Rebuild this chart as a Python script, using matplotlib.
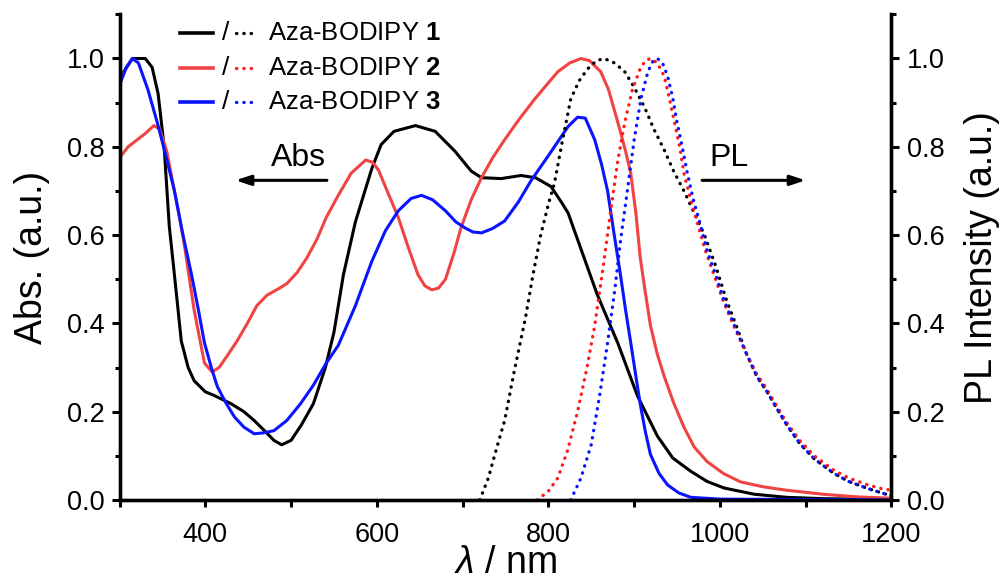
import numpy as np
import matplotlib
matplotlib.use('Agg')
import matplotlib.pyplot as plt
from matplotlib.ticker import MultipleLocator

plt.rcParams['font.family'] = ['Liberation Sans', 'DejaVu Sans']
plt.rcParams['mathtext.fontset'] = 'custom'
plt.rcParams['mathtext.it'] = 'Liberation Sans:italic'
plt.rcParams['mathtext.rm'] = 'Liberation Sans'
plt.rcParams['mathtext.bf'] = 'Liberation Sans:bold'

# absorption, compound 1
abs1_wl = [305, 315, 330, 338, 345, 352, 358, 364, 372, 380, 387, 400, 410, 430, 445, 457, 470, 480, 489,
           500, 512, 526, 540, 550, 561, 575, 594, 605, 620, 645, 668, 691, 710, 722, 745, 768, 785, 803,
           815, 823, 834, 857, 881, 904, 927, 945, 966, 985, 1005, 1040, 1078, 1120, 1200]
abs1_val = [0.97, 1.0, 1.0, 0.98, 0.92, 0.80, 0.62, 0.51, 0.36, 0.30, 0.27, 0.245, 0.237, 0.218, 0.20, 0.18,
            0.155, 0.135, 0.125, 0.135, 0.17, 0.218, 0.30, 0.38, 0.51, 0.63, 0.75, 0.805, 0.835, 0.848,
            0.835, 0.79, 0.745, 0.73, 0.728, 0.735, 0.73, 0.71, 0.675, 0.65, 0.59, 0.465, 0.355, 0.235,
            0.145, 0.095, 0.065, 0.042, 0.027, 0.013, 0.006, 0.003, 0.001]

# absorption, compound 2
abs2_wl = [300, 310, 320, 330, 340, 347, 355, 360, 368, 375, 387, 399, 408, 416, 425, 437, 449, 460, 472,
           485, 495, 507, 518, 530, 541, 555, 570, 587, 595, 602, 612, 625, 637, 648, 656, 664, 672, 680,
           690, 698, 710, 722, 735, 749, 765, 784, 800, 811, 825, 838, 848, 861, 870, 881, 890, 896, 902,
           907, 913, 919, 927, 935, 946, 958, 970, 985, 1004, 1024, 1050, 1078, 1120, 1160, 1200]
abs2_val = [0.775, 0.80, 0.815, 0.83, 0.848, 0.84, 0.79, 0.74, 0.66, 0.585, 0.43, 0.31, 0.29, 0.30, 0.325,
            0.36, 0.40, 0.44, 0.464, 0.478, 0.49, 0.515, 0.547, 0.59, 0.64, 0.69, 0.74, 0.77, 0.765, 0.747,
            0.70, 0.64, 0.57, 0.51, 0.485, 0.476, 0.48, 0.50, 0.56, 0.616, 0.68, 0.73, 0.775, 0.816, 0.86,
            0.908, 0.945, 0.97, 0.99, 1.0, 0.995, 0.97, 0.93, 0.855, 0.79, 0.74, 0.65, 0.55, 0.47, 0.395,
            0.33, 0.28, 0.22, 0.165, 0.12, 0.087, 0.06, 0.041, 0.03, 0.022, 0.013, 0.007, 0.004]

# absorption, compound 3
abs3_wl = [300, 308, 315, 322, 333, 344, 354, 364, 374, 384, 392, 399, 407, 414, 424, 434, 445, 457, 468,
           480, 495, 511, 526, 541, 555, 575, 594, 610, 625, 640, 652, 665, 680, 692, 703, 712, 722, 735,
           749, 765, 780, 800, 823, 834, 843, 854, 862, 869, 876, 884, 890, 896, 902, 907, 913, 919, 929,
           939, 952, 966, 1000, 1200]
abs3_val = [0.94, 0.98, 1.0, 0.99, 0.93, 0.855, 0.78, 0.70, 0.60, 0.51, 0.43, 0.356, 0.30, 0.257, 0.22,
            0.188, 0.165, 0.15, 0.152, 0.157, 0.18, 0.218, 0.26, 0.31, 0.35, 0.44, 0.54, 0.61, 0.655, 0.683,
            0.69, 0.68, 0.655, 0.63, 0.616, 0.607, 0.605, 0.615, 0.632, 0.675, 0.724, 0.78, 0.846, 0.867,
            0.865, 0.816, 0.76, 0.70, 0.61, 0.51, 0.43, 0.356, 0.28, 0.218, 0.155, 0.103, 0.06, 0.034,
            0.016, 0.006, 0.002, 0.0]

# photoluminescence
pl1_wl = [720, 730, 740, 749, 760, 773, 782, 791, 800, 807, 815, 826, 836, 846, 856, 865, 877, 889, 900,
          912, 923, 935, 946, 958, 970, 982, 995, 1008, 1020, 1030, 1043, 1055, 1067, 1078, 1093, 1110,
          1133, 1150, 1171, 1190, 1200]
pl1_val = [0.0, 0.05, 0.12, 0.18, 0.29, 0.41, 0.51, 0.60, 0.67, 0.717, 0.80, 0.908, 0.95, 0.977, 0.995,
           1.0, 0.99, 0.97, 0.935, 0.89, 0.84, 0.793, 0.745, 0.70, 0.65, 0.60, 0.53, 0.45, 0.39, 0.335,
           0.28, 0.245, 0.205, 0.17, 0.128, 0.093, 0.06, 0.042, 0.027, 0.015, 0.01]

pl2_wl = [787, 800, 811, 822, 834, 845, 854, 864, 873, 881, 889, 898, 907, 913, 919, 927, 935, 941, 947,
          953, 958, 966, 974, 983, 993, 1004, 1016, 1030, 1043, 1055, 1067, 1078, 1093, 1110, 1133, 1150,
          1171, 1190, 1200]
pl2_val = [0.0, 0.02, 0.05, 0.11, 0.2, 0.30, 0.395, 0.53, 0.66, 0.77, 0.855, 0.93, 0.977, 0.995, 1.0, 0.99,
           0.96, 0.91, 0.855, 0.80, 0.74, 0.68, 0.625, 0.565, 0.51, 0.45, 0.395, 0.335, 0.285, 0.25, 0.21,
           0.175, 0.135, 0.10, 0.067, 0.05, 0.035, 0.025, 0.022]

pl3_wl = [826, 838, 850, 860, 869, 877, 884, 892, 900, 908, 916, 922, 927, 933, 939, 945, 950, 956, 962,
          969, 977, 985, 995, 1005, 1017, 1030, 1043, 1055, 1067, 1078, 1093, 1110, 1133, 1150, 1171, 1190,
          1200]
pl3_val = [0.0, 0.05, 0.126, 0.24, 0.356, 0.47, 0.586, 0.70, 0.816, 0.91, 0.97, 0.995, 1.0, 0.99, 0.96,
           0.91, 0.855, 0.80, 0.74, 0.68, 0.625, 0.565, 0.51, 0.45, 0.395, 0.335, 0.28, 0.245, 0.205, 0.17,
           0.128, 0.093, 0.06, 0.042, 0.027, 0.015, 0.01]

names = ['1', '2', '3']
solid_colors = ['black', '#f04444', '#0a14ff']
dot_colors = ['black', '#ff1a1a', '#0a14ff']

fig = plt.figure(figsize=(10.07, 5.88), dpi=100)
ax = fig.add_axes([0.1187, 0.1497, 0.7666, 0.8259])
ax2 = ax.twinx()

dots = (0, (0.1, 2.1))
for wl, val, c in zip([abs1_wl, abs2_wl, abs3_wl], [abs1_val, abs2_val, abs3_val], solid_colors):
    ax.plot(wl, val, color=c, lw=2.2, solid_joinstyle='round')
for wl, val, c in zip([pl1_wl, pl2_wl, pl3_wl], [pl1_val, pl2_val, pl3_val], dot_colors):
    ax2.plot(wl, val, color=c, lw=2.4, linestyle=dots, dash_capstyle='round')

for a in (ax, ax2):
    a.set_xlim(300, 1200)
    a.set_ylim(0, 1.1)
    a.spines['top'].set_visible(False)
    for s in ('left', 'right', 'bottom'):
        a.spines[s].set_linewidth(2.4)
    a.yaxis.set_major_locator(MultipleLocator(0.2))
    a.yaxis.set_minor_locator(MultipleLocator(0.1))
    a.tick_params(which='major', direction='out', length=6, width=2.2, labelsize=19.5, pad=5)
    a.tick_params(which='minor', direction='out', length=3.5, width=2.2)

ax.xaxis.set_major_locator(MultipleLocator(200))
ax.xaxis.set_minor_locator(MultipleLocator(100))
ax.tick_params(axis='x', which='major', length=5, pad=11)
ax.tick_params(axis='x', which='minor', length=5)
ax.set_yticklabels(['%.1f' % v for v in ax.get_yticks()])
ax2.set_yticklabels(['%.1f' % v for v in ax2.get_yticks()])

ax.set_xlabel(r'$\it{\lambda}$ / nm', fontsize=27, labelpad=-2)
ax.set_ylabel('Abs. (a.u.)', fontsize=27, labelpad=12)
ax2.set_ylabel('PL Intensity (a.u.)', fontsize=27, labelpad=14)

# arrows
ax.annotate('', xy=(432, 0.724), xytext=(545, 0.724),
            arrowprops=dict(arrowstyle='-|>,head_length=0.9,head_width=0.3', color='black', lw=2.2))
ax.text(509, 0.775, 'Abs', fontsize=23, ha='center', va='center')
ax.annotate('', xy=(1103, 0.724), xytext=(976, 0.724),
            arrowprops=dict(arrowstyle='-|>,head_length=0.9,head_width=0.3', color='black', lw=2.2))
ax.text(1010, 0.775, 'PL', fontsize=23, ha='center', va='center')

# custom legend: solid / dotted  label
rows = [0.9617, 0.8896, 0.8196]
for y, n, cs, cd in zip(rows, names, solid_colors, dot_colors):
    ax.plot([0.078, 0.121], [y, y], color=cs, lw=2.6, transform=ax.transAxes, clip_on=False)
    ax.text(0.137, y, '/', fontsize=19, ha='center', va='center', transform=ax.transAxes)
    ax.plot([0.151, 0.179], [y, y], color=cd, lw=2.4, linestyle=dots,
            dash_capstyle='round', transform=ax.transAxes, clip_on=False)
    ax.text(0.192, y, 'Aza-BODIPY $\\mathbf{%s}$' % n, fontsize=18.5, ha='left', va='center',
            transform=ax.transAxes)

fig.savefig('out.png', dpi=100)
